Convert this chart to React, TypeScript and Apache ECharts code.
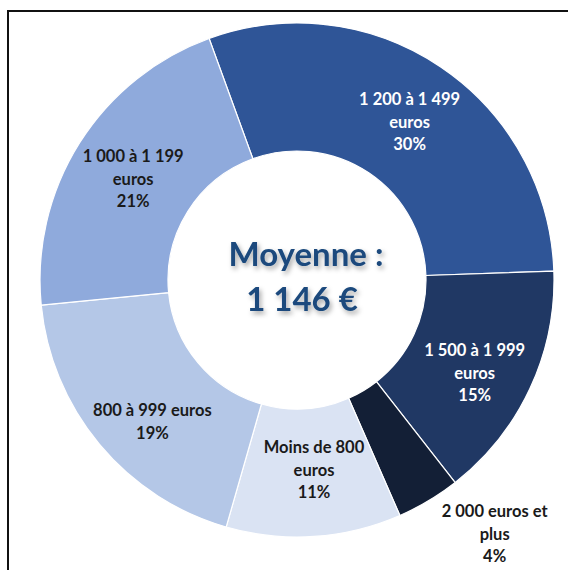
import React, { useEffect, useRef } from "react";
import * as echarts from "echarts";

const categories = [
  "1 200 à 1 499\neuros",
  "1 500 à 1 999\neuros",
  "2 000 euros et\nplus",
  "Moins de 800\neuros",
  "800 à 999 euros",
  "1 000 à 1 199\neuros",
];
const shares = [30, 15, 4, 11, 19, 21];
const sliceColors = ["#2F5597", "#203864", "#131F36", "#DAE3F3", "#B4C7E7", "#8FAADC"];
const labelColors = ["#FFFFFF", "#FFFFFF", "#1A1A1A", "#1A1A1A", "#1A1A1A", "#1A1A1A"];
const centerLines = ["Moyenne :", "1 146 €"];
// label nudges (best-fit placement as in the original)
const labelNudges = [
  [3, 4],
  [0, 10],
  [58, 28],
  [4, -6],
  [6, 16],
  [2, 3],
];

export default function App() {
  const ref = useRef<HTMLDivElement>(null);
  useEffect(() => {
    if (!ref.current) return;
    const chart = echarts.init(ref.current, null, { renderer: "svg" });
    const font = "Lato, 'Noto Sans', sans-serif";
    chart.setOption({
      animation: false,
      backgroundColor: "#FFFFFF",
      graphic: [
        {
          type: "rect",
          shape: { x: 8, y: 11, width: 620, height: 620 },
          style: { fill: "none", stroke: "#111111", lineWidth: 2 },
          z: 10,
        },
        ...centerLines.map((t, i) => ({
          type: "text",
          x: i === 0 ? 306 : 302,
          y: 253 + i * 45,
          style: {
            text: t,
            fill: "#1B4A7D",
            font: `bold 33px ${font}`,
            align: "center",
            verticalAlign: "middle",
            textShadowColor: "rgba(0,0,0,0.35)",
            textShadowBlur: 5,
            textShadowOffsetX: 2,
            textShadowOffsetY: 3,
          },
          z: 20,
        })),
      ],
      series: [
        {
          type: "pie",
          center: [297, 280],
          radius: [129, 257],
          startAngle: 110,
          clockwise: true,
          avoidLabelOverlap: false,
          itemStyle: { borderColor: "#FFFFFF", borderWidth: 1.2 },
          label: {
            show: true,
            position: "inside",
            formatter: "{b}\n{c}%",
            fontFamily: font,
            fontWeight: "bold",
            fontSize: 16.5,
            lineHeight: 22.5,
            align: "center",
          },
          labelLine: { show: false, length: 6, length2: 0 },
          labelLayout: (p: any) => {
            const n = labelNudges[p.dataIndex] || [0, 0];
            return p.dataIndex === 2
              ? { dx: n[0], dy: n[1], align: "center" }
              : { dx: n[0], dy: n[1] };
          },
          data: categories.map((name, i) => ({
            name,
            value: shares[i],
            itemStyle: { color: sliceColors[i] },
            label:
              i === 2
                ? { position: "outside", color: labelColors[i], align: "center" }
                : { color: labelColors[i] },
          })),
        },
      ],
    });
    return () => chart.dispose();
  }, []);
  return (
    <div
      ref={ref}
      style={{ position: "fixed", left: 0, top: 0, width: 568, height: 570 }}
    />
  );
}
